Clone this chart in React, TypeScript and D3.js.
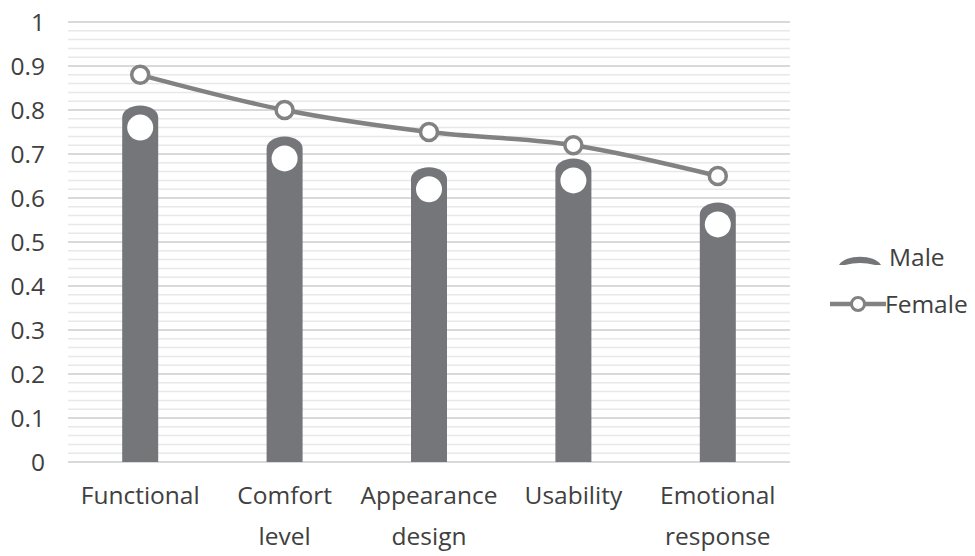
import * as d3 from "d3";
import React from "react";

const categories = [
  ["Functional"],
  ["Comfort", "level"],
  ["Appearance", "design"],
  ["Usability"],
  ["Emotional", "response"],
];
const maleValues = [0.81, 0.74, 0.67, 0.69, 0.59];
const femaleValues = [0.88, 0.8, 0.75, 0.72, 0.65];
const yTicks = [0, 0.1, 0.2, 0.3, 0.4, 0.5, 0.6, 0.7, 0.8, 0.9, 1];
const yTickLabels = ["0", "0.1", "0.2", "0.3", "0.4", "0.5", "0.6", "0.7", "0.8", "0.9", "1"];

const width = 975,
  height = 556;
const left = 68,
  right = 790,
  top = 22,
  bottom = 462;

const font = "'Open Sans', 'Noto Sans', sans-serif";
const fontSize = 24.5;
const textColor = "#404040";
const barColor = "#75767a";
const lineColor = "#828282";

const App = () => {
  const x = d3
    .scaleBand()
    .domain(categories.map((c, i) => String(i)))
    .range([left, right]);
  const y = d3.scaleLinear().domain([0, 1]).range([bottom, top]);

  const minorTicks = d3.range(0, 1.0001, 0.02);
  const barW = 36;

  const line = d3
    .line<number>()
    .x((d, i) => x(String(i))! + x.bandwidth() / 2)
    .y((d) => y(d))
    .curve(d3.curveCatmullRom.alpha(0.5));

  // bar with a flattened rounded cap
  const barPath = (cx: number, v: number) => {
    const x0 = cx - barW / 2,
      x1 = cx + barW / 2;
    const yt = y(v),
      ry = 12;
    return `M${x0},${bottom} L${x0},${yt + ry} A${barW / 2},${ry} 0 0 1 ${x1},${yt + ry} L${x1},${bottom} Z`;
  };

  return (
    <svg
      width={width}
      height={height}
      style={{ position: "absolute", left: 0, top: 0, background: "#fff" }}
    >
      {/* minor gridlines */}
      {minorTicks.map((t) => (
        <line
          key={"m" + t}
          x1={left}
          x2={right}
          y1={y(t)}
          y2={y(t)}
          stroke="#e8e8e8"
          strokeWidth={1.5}
        />
      ))}
      {/* major gridlines */}
      {yTicks.map((t) => (
        <line
          key={"g" + t}
          x1={left}
          x2={right}
          y1={y(t)}
          y2={y(t)}
          stroke="#d9d9d9"
          strokeWidth={2}
        />
      ))}
      {yTicks.map((t, i) => (
        <text
          key={"t" + t}
          x={45}
          y={y(t)}
          dy="0.36em"
          textAnchor="end"
          fontFamily={font}
          fontSize={fontSize}
          fill={textColor}
        >
          {yTickLabels[i]}
        </text>
      ))}

      {/* Male bars */}
      {maleValues.map((v, i) => {
        const cx = x(String(i))! + x.bandwidth() / 2;
        return (
          <g key={"b" + i}>
            <path d={barPath(cx, v)} fill={barColor} />
            <circle cx={cx} cy={y(v) + 22} r={13} fill="#fff" />
          </g>
        );
      })}

      {/* Female line */}
      <path d={line(femaleValues)!} fill="none" stroke={lineColor} strokeWidth={4.5} />
      {femaleValues.map((v, i) => (
        <circle
          key={"f" + i}
          cx={x(String(i))! + x.bandwidth() / 2}
          cy={y(v)}
          r={8.5}
          fill="#fff"
          stroke={lineColor}
          strokeWidth={3.5}
        />
      ))}

      {/* category labels */}
      {categories.map((lines, i) => (
        <text
          key={"c" + i}
          x={x(String(i))! + x.bandwidth() / 2}
          y={504}
          textAnchor="middle"
          fontFamily={font}
          fontSize={fontSize}
          fill={textColor}
        >
          {lines.map((l, j) => (
            <tspan key={j} x={x(String(i))! + x.bandwidth() / 2} dy={j === 0 ? 0 : 41}>
              {l}
            </tspan>
          ))}
        </text>
      ))}

      {/* legend */}
      <g>
        <path d="M839,265 C845,254 875,254 881,265 L875,265 Q860,261 845,265 Z" fill={barColor} />
        <text x={889} y={266} fontFamily={font} fontSize={fontSize} fill={textColor}>
          Male
        </text>
        <line x1={830} x2={886} y1={304} y2={304} stroke={lineColor} strokeWidth={4.5} />
        <circle cx={858} cy={304} r={6.5} fill="#fff" stroke={lineColor} strokeWidth={3} />
        <text x={885} y={313} fontFamily={font} fontSize={fontSize} fill={textColor}>
          Female
        </text>
      </g>
    </svg>
  );
};

export default App;
